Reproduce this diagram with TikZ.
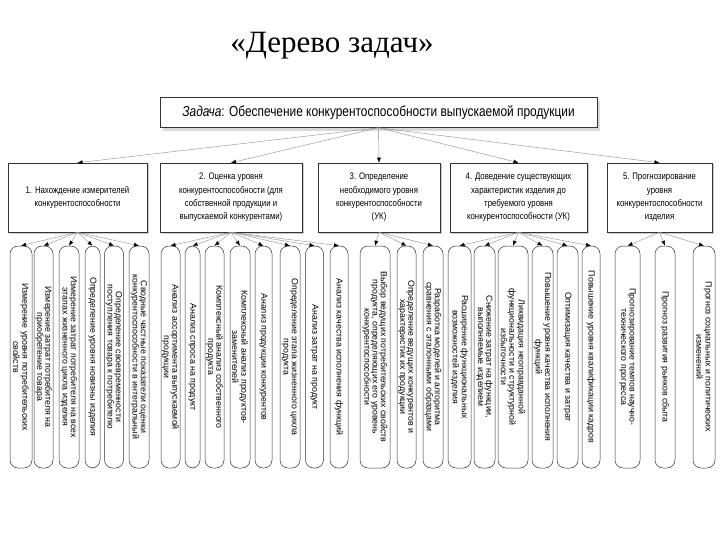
\documentclass[tikz,border=0pt]{standalone}
\usepackage{fontspec}
\setmainfont{Liberation Sans}
\newfontfamily\narrowfont{Liberation Sans}[FakeStretch=0.82]
\newfontfamily\titlefont{Liberation Serif}
\usetikzlibrary{arrows.meta,shadows}
\begin{document}
\begin{tikzpicture}[x=1pt,y=-1pt,
  toptask/.style={draw=black!80, line width=0.5pt, fill=white, minimum width=437pt, minimum height=30pt, inner sep=0pt,
    font=\narrowfont\fontsize{14.5}{16}\selectfont,
    drop shadow={shadow xshift=3pt, shadow yshift=-4pt, fill=black!15, opacity=1}},
  lvl/.style={draw=black!80, line width=0.5pt, fill=white, minimum height=69pt, inner sep=1pt, align=center,
    font=\narrowfont\fontsize{9.5}{13.3}\selectfont,
    drop shadow={shadow xshift=1.5pt, shadow yshift=-1.5pt, fill=black!20, opacity=1}},
  leaf/.style={draw=black!80, line width=0.5pt, fill=white, rotate=-90, minimum width=222pt, inner sep=0.5pt,
    rounded corners=8pt, align=center, font=\fontsize{8.8}{8.3}\selectfont},
  conn/.style={draw=black!45, line width=0.4pt, -{Latex[length=5pt,width=4pt,color=black]}}
]
\useasboundingbox (0,0) rectangle (720,540);

\node[font=\titlefont\fontsize{31}{34}\selectfont] (title) at (332,46) {«Дерево задач»};

\node[toptask] (top) at (378.5,112.5) {\textit{Задача}: Обеспечение конкурентоспособности выпускаемой продукции};

\node[lvl, minimum width=139pt] (b1) at (77.5,197.5) {1. Нахождение измерителей\\конкурентоспособности};
\node[lvl, minimum width=142pt] (b2) at (231,197.5) {2. Оценка уровня\\конкурентоспособности (для\\собственной продукции и\\выпускаемой конкурентами)};
\node[lvl, minimum width=122pt] (b3) at (379,197.5) {3. Определение\\необходимого уровня\\конкурентоспособности\\(УК)};
\node[lvl, minimum width=137pt] (b4) at (518.5,197.5) {4. Доведение существующих\\характеристик изделия до\\требуемого уровня\\конкурентоспособности (УК)};
\node[lvl, minimum width=105pt] (b5) at (659.5,197.5) {5. Прогнозирование\\уровня\\конкурентоспособности\\изделия};

% group 1
\node[leaf, minimum height=22pt] (l11) at (21,357) {Измерение уровня потребительских\\свойств};
\node[leaf, minimum height=19pt] (l12) at (43.5,357) {Измерение затрат потребителя на\\приобретение товара};
\node[leaf, minimum height=20pt] (l13) at (69,357) {Измерение затрат потребителя на всех\\этапах жизненного цикла изделия};
\node[leaf, minimum height=15pt] (l14) at (92.5,357) {Определение уровня новизны изделия};
\node[leaf, minimum height=19pt] (l15) at (114,357) {Определение своевременности\\поступления товара к потребителю};
\node[leaf, minimum height=20pt] (l16) at (139,357) {Сводные частные показатели оценки\\конкурентоспособности в интегральный};

% group 2
\node[leaf, minimum height=19pt] (l21) at (170.5,357) {Анализ ассортимента выпускаемой\\продукции};
\node[leaf, minimum height=15pt] (l22) at (192.5,357) {Анализ спроса на продукт};
\node[leaf, minimum height=19pt] (l23) at (214.5,357) {Комплексный анализ собственного\\продукта};
\node[leaf, minimum height=20pt] (l24) at (240,357) {Комплексный анализ продуктов-\\заменителей};
\node[leaf, minimum height=17pt] (l25) at (263.5,357) {Анализ продукции конкурентов};
\node[leaf, minimum height=20pt] (l26) at (290,357) {Определение этапа жизненного цикла\\продукта};
\node[leaf, minimum height=18pt] (l27) at (314.5,357) {Анализ затрат на продукт};
\node[leaf, minimum height=18pt] (l28) at (339,357) {Анализ качества исполнения функций};

% group 3
\node[leaf, minimum height=30pt] (l31) at (375,357) {Выбор ведущих потребительских свойств\\продукта, определяющих его уровень\\конкурентоспособности};
\node[leaf, minimum height=19pt] (l32) at (406.5,357) {Определение ведущих конкурентов и\\характеристик их продукции};
\node[leaf, minimum height=20pt] (l33) at (433,357) {Разработка моделей и алгоритма\\сравнения с эталонными образцами};

% group 4
\node[leaf, minimum height=23pt] (l41) at (459.5,357) {Расширение функциональных\\возможностей изделия};
\node[leaf, minimum height=21pt] (l42) at (484.5,357) {Снижение затрат на функции,\\выполняемые изделием};
\node[leaf, minimum height=30pt] (l43) at (513,357) {Ликвидация неоправданной\\функциональности и структурной\\избыточности};
\node[leaf, minimum height=21pt] (l44) at (542.5,357) {Повышение уровня качества исполнения\\функций};
\node[leaf, minimum height=21pt] (l45) at (567.5,357) {Оптимизация качества и затрат};
\node[leaf, minimum height=18pt] (l46) at (591,357) {Повышение уровня квалификации кадров};

% group 5
\node[leaf, minimum height=25pt] (l51) at (627.5,357) {Прогнозирование темпов научно-\\технического прогресса};
\node[leaf, minimum height=20pt] (l52) at (665,357) {Прогноз развития рынков сбыта};
\node[leaf, minimum height=22pt] (l53) at (704,357) {Прогноз социальных и политических\\изменений};

% connectors
\foreach \b in {b1,b2,b3,b4,b5} \draw[conn] (top.south) -- (\b.north);
\foreach \l in {l11,l12,l13,l14,l15,l16} \draw[conn] (b1.south) -- (\l.west);
\foreach \l in {l21,l22,l23,l24,l25,l26,l27,l28} \draw[conn] (b2.south) -- (\l.west);
\foreach \l in {l31,l32,l33} \draw[conn] (b3.south) -- (\l.west);
\foreach \l in {l41,l42,l43,l44,l45,l46} \draw[conn] (b4.south) -- (\l.west);
\foreach \l in {l51,l52,l53} \draw[conn] (b5.south) -- (\l.west);
\end{tikzpicture}
\end{document}
